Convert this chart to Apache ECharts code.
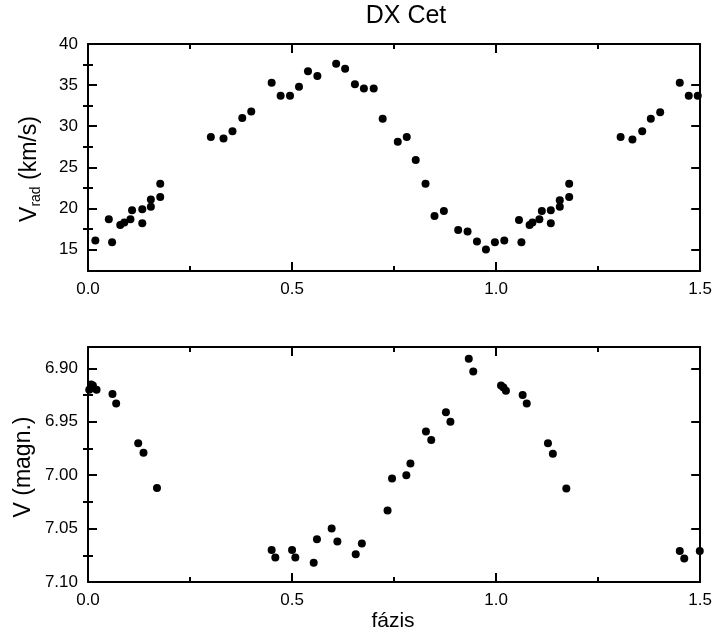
<!DOCTYPE html>
<html><head><meta charset="utf-8">
<script src="https://cdn.jsdelivr.net/npm/echarts@6/dist/echarts.min.js"></script>
<style>html,body{margin:0;padding:0;background:#fff}#c{width:715px;height:636px}</style>
</head><body><div id="c"></div>
<script>
// Radial velocity panel
const rvPhase = [0.018,0.051,0.059,0.079,0.089,0.104,0.108,0.133,0.133,0.154,0.154,0.177,0.177,
  0.301,0.332,0.354,0.378,0.400,
  0.450,0.472,0.495,0.517,0.539,0.562,0.608,0.630,0.654,
  0.676,0.700,0.722,0.759,0.781,0.803,0.827,0.849,0.872,0.907,0.930,0.953,0.975,0.997,1.020,
  1.056,1.062,1.082,1.089,1.106,1.112,1.134,1.134,1.156,1.156,1.179,1.179,
  1.305,1.334,1.358,1.379,1.402,1.450,1.472,1.494];
const rvVel = [16.1,18.7,15.9,18.0,18.3,18.7,19.8,19.9,18.2,20.2,21.1,23.0,21.4,
  28.7,28.5,29.4,31.0,31.8,
  35.3,33.7,33.7,34.8,36.7,36.1,37.6,37.0,35.1,
  34.6,34.6,30.9,28.1,28.7,25.9,23.0,19.1,19.7,17.4,17.2,16.0,15.0,15.9,16.1,
  18.6,15.9,18.0,18.3,18.7,19.7,19.8,18.2,20.2,21.0,23.0,21.4,
  28.7,28.4,29.4,30.9,31.7,35.3,33.7,33.7];
// Magnitude panel
const magPhase = [0.003,0.0075,0.012,0.021,0.060,0.069,0.123,0.136,0.169,
  0.450,0.459,0.500,0.508,0.553,0.561,0.597,0.611,0.656,0.671,
  0.734,0.745,0.780,0.790,0.828,0.841,0.877,0.888,0.933,0.944,
  1.012,1.018,1.024,1.065,1.075,1.127,1.139,1.172,
  1.450,1.461,1.499];
const magV = [6.920,6.915,6.916,6.920,6.924,6.933,6.970,6.979,7.012,
  7.070,7.077,7.070,7.077,7.082,7.060,7.050,7.062,7.074,7.064,
  7.033,7.003,7.000,6.989,6.959,6.967,6.941,6.950,6.891,6.903,
  6.916,6.918,6.921,6.925,6.933,6.970,6.980,7.0125,
  7.071,7.078,7.071];
// Tick values
const rvMajor = [15,20,25,30,35,40];
const rvMinor = [17.5,22.5,27.5,32.5,37.5];
const magMajor = [6.90,6.95,7.00,7.05,7.10];
const magMinor = [6.925,6.975,7.025,7.075];

const FONT = 'Liberation Sans, Arial, sans-serif';
const lineStyle = {color:'#000', width:2};
const grids = [
  {left:88, top:44, width:614, height:227},
  {left:88, top:347, width:614, height:235}
];
function xAxes(g){
  const base = {type:'value', gridIndex:g, min:0, max:1.5, interval:0.5,
    axisLine:{show:true, lineStyle}, splitLine:{show:false},
    axisTick:{show:true, inside:true, length:9, lineStyle},
    minorTick:{show:true, splitNumber:2, length:5, lineStyle},
    minorSplitLine:{show:false}};
  return [
    Object.assign({}, base, {position:'bottom',
      axisLabel:{show:true, margin:10, fontSize:17, color:'#000', fontFamily:FONT, formatter:v=>v.toFixed(1)}}),
    Object.assign({}, base, {position:'top', axisLabel:{show:false}})
  ];
}
function yAxes(g, min, max, major, minor, inverse, dec){
  const res = [];
  ['left','right'].forEach(pos=>{
    res.push({type:'value', gridIndex:g, min, max, inverse, position:pos,
      axisLine:{show:true, onZero:false, lineStyle}, splitLine:{show:false},
      axisTick:{show:true, inside:true, length:9, lineStyle, customValues:major},
      axisLabel:{show:pos==='left', margin:10, fontSize:17, color:'#000', fontFamily:FONT,
        customValues:major, formatter:v=>Number(v).toFixed(dec)}});
    res.push({type:'value', gridIndex:g, min, max, inverse, position:pos,
      axisLine:{show:false}, splitLine:{show:false},
      axisTick:{show:true, inside:true, length:5, lineStyle, customValues:minor},
      axisLabel:{show:false}});
  });
  return res;
}
const rvData = rvPhase.map((p,i)=>[p, rvVel[i]]);
const magData = magPhase.map((p,i)=>[p, magV[i]]);

const option = {
  animation:false,
  backgroundColor:'#fff',
  grid: grids,
  xAxis: [...xAxes(0), ...xAxes(1)],
  yAxis: [...yAxes(0, 12.4, 40, rvMajor, rvMinor, false, 0),
          ...yAxes(1, 6.88, 7.10, magMajor, magMinor, true, 2)],
  series: [
    {type:'scatter', xAxisIndex:0, yAxisIndex:0, data:rvData, symbolSize:8,
     itemStyle:{color:'#000', opacity:1}, clip:false},
    {type:'scatter', xAxisIndex:2, yAxisIndex:4, data:magData, symbolSize:8,
     itemStyle:{color:'#000', opacity:1}, clip:false}
  ],
  graphic: [
    {type:'text', x:406, y:16, style:{text:'DX Cet', fontSize:25, fontFamily:FONT, fill:'#000',
      align:'center', verticalAlign:'middle'}},
    {type:'text', x:393, y:621, style:{text:'fázis', fontSize:21, fontFamily:FONT, fill:'#000',
      align:'center', verticalAlign:'middle'}},
    {type:'text', x:30, y:169, rotation:Math.PI/2, style:{
      text:'{v|V}{s|rad}{v| (km/s)}', align:'center', verticalAlign:'middle', fill:'#000',
      rich:{v:{fontSize:23, fontFamily:FONT, fill:'#000', lineHeight:26},
            s:{fontSize:14, fontFamily:FONT, fill:'#000', verticalAlign:'bottom', padding:[10,0,0,0], lineHeight:26}}}},
    {type:'text', x:24, y:467, rotation:Math.PI/2, style:{text:'V (magn.)', fontSize:23, fontFamily:FONT,
      fill:'#000', align:'center', verticalAlign:'middle'}}
  ]
};
const chart = echarts.init(document.getElementById('c'), null, {renderer:'canvas'});
chart.setOption(option);
</script></body></html>
